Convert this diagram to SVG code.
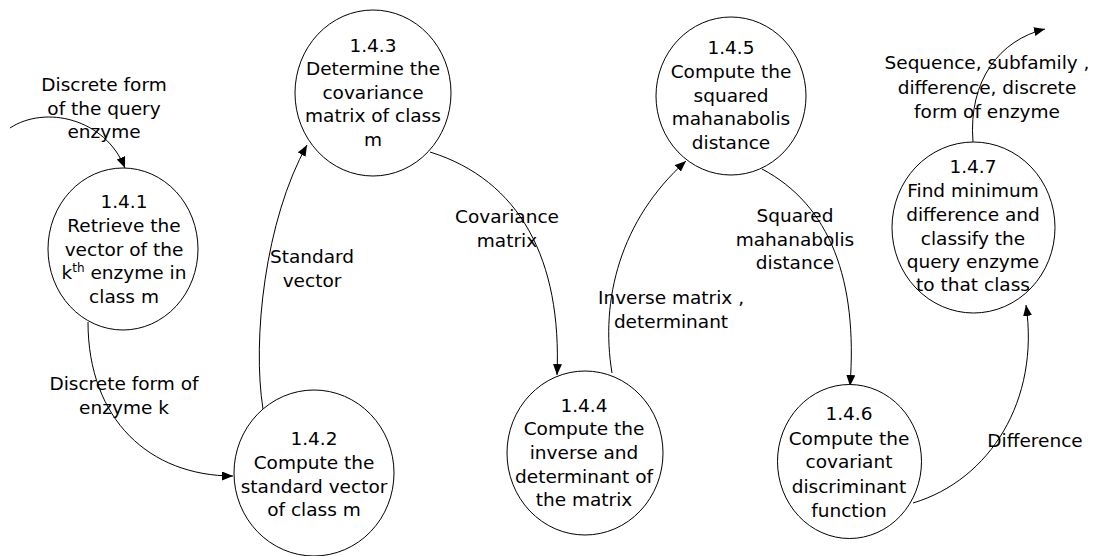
<svg xmlns="http://www.w3.org/2000/svg" width="1094" height="556" viewBox="0 0 1094 556">
<style>
text{font-family:"DejaVu Sans","Liberation Sans",sans-serif;font-size:18.5px;fill:#000;text-anchor:middle}
.node{fill:#fff;stroke:#000;stroke-width:1}
.flow{fill:none;stroke:#000;stroke-width:1;marker-end:url(#arr)}
</style>
<defs>
<marker id="arr" markerUnits="userSpaceOnUse" markerWidth="12" markerHeight="10" refX="11" refY="4.5" orient="auto">
<path d="M0,0 L11,4.5 L0,9 z" fill="#000"/>
</marker>
</defs>
<rect width="1094" height="556" fill="#fff"/>
<g id="connectors">
<path class="flow" d="M10,128 C45,105 105,118 125,168"/>
<path class="flow" d="M88,322 C88,420 150,476 233,476"/>
<path class="flow" d="M263,409 C252,340 265,220 307,145"/>
<path class="flow" d="M430,152 C520,180 562,260 557,375"/>
<path class="flow" d="M612,373 C600,300 620,220 686,161"/>
<path class="flow" d="M762,169 C830,205 858,280 850,386"/>
<path class="flow" d="M913,503 C990,480 1040,400 1026,305"/>
<path class="flow" d="M973,142 C968,80 1000,40 1045,29"/>
</g>
<g id="labels">
<text x="104" y="91">Discrete form</text>
<text x="104" y="115">of the query</text>
<text x="104" y="138">enzyme</text>
<text x="124" y="390">Discrete form of</text>
<text x="124" y="414">enzyme k</text>
<text x="312" y="263">Standard</text>
<text x="312" y="287">vector</text>
<text x="507" y="223">Covariance</text>
<text x="507" y="247">matrix</text>
<text x="671" y="304">Inverse matrix ,</text>
<text x="671" y="328">determinant</text>
<text x="795" y="222">Squared</text>
<text x="795" y="246">mahanabolis</text>
<text x="795" y="269">distance</text>
<text x="1035" y="447">Difference</text>
<text x="987" y="69">Sequence, subfamily ,</text>
<text x="987" y="94">difference, discrete</text>
<text x="987" y="118">form of enzyme</text>
</g>
<g id="n141">
<ellipse class="node" cx="123" cy="249" rx="75" ry="81"/>
<text x="124" y="208">1.4.1</text>
<text x="124" y="232">Retrieve the</text>
<text x="124" y="256">vector of the</text>
<text x="124" y="279">k<tspan dy="-7" font-size="12">th</tspan><tspan dy="7"> enzyme in</tspan></text>
<text x="124" y="303">class m</text>
</g>
<g id="n142">
<ellipse class="node" cx="314" cy="473" rx="80" ry="83"/>
<text x="314" y="445">1.4.2</text>
<text x="314" y="469">Compute the</text>
<text x="314" y="493">standard vector</text>
<text x="314" y="516">of class m</text>
</g>
<g id="n143">
<ellipse class="node" cx="373" cy="93" rx="78" ry="83"/>
<text x="373" y="52">1.4.3</text>
<text x="373" y="75">Determine the</text>
<text x="373" y="99">covariance</text>
<text x="373" y="122">matrix of class</text>
<text x="373" y="146">m</text>
</g>
<g id="n144">
<ellipse class="node" cx="585" cy="453" rx="78" ry="82"/>
<text x="584" y="412">1.4.4</text>
<text x="584" y="435">Compute the</text>
<text x="584" y="459">inverse and</text>
<text x="584" y="483">determinant of</text>
<text x="584" y="506">the matrix</text>
</g>
<g id="n145">
<ellipse class="node" cx="731" cy="96" rx="75" ry="79"/>
<text x="731" y="54">1.4.5</text>
<text x="731" y="78">Compute the</text>
<text x="731" y="102">squared</text>
<text x="731" y="125">mahanabolis</text>
<text x="731" y="149">distance</text>
</g>
<g id="n146">
<ellipse class="node" cx="849.5" cy="461.5" rx="72" ry="77"/>
<text x="849" y="420">1.4.6</text>
<text x="849" y="445">Compute the</text>
<text x="849" y="468">covariant</text>
<text x="849" y="493">discriminant</text>
<text x="849" y="517">function</text>
</g>
<g id="n147">
<ellipse class="node" cx="973.5" cy="227.5" rx="81.5" ry="85.5"/>
<text x="973" y="173">1.4.7</text>
<text x="973" y="197">Find minimum</text>
<text x="973" y="221">difference and</text>
<text x="973" y="245">classify the</text>
<text x="973" y="268">query enzyme</text>
<text x="973" y="291">to that class</text>
</g>
</svg>
